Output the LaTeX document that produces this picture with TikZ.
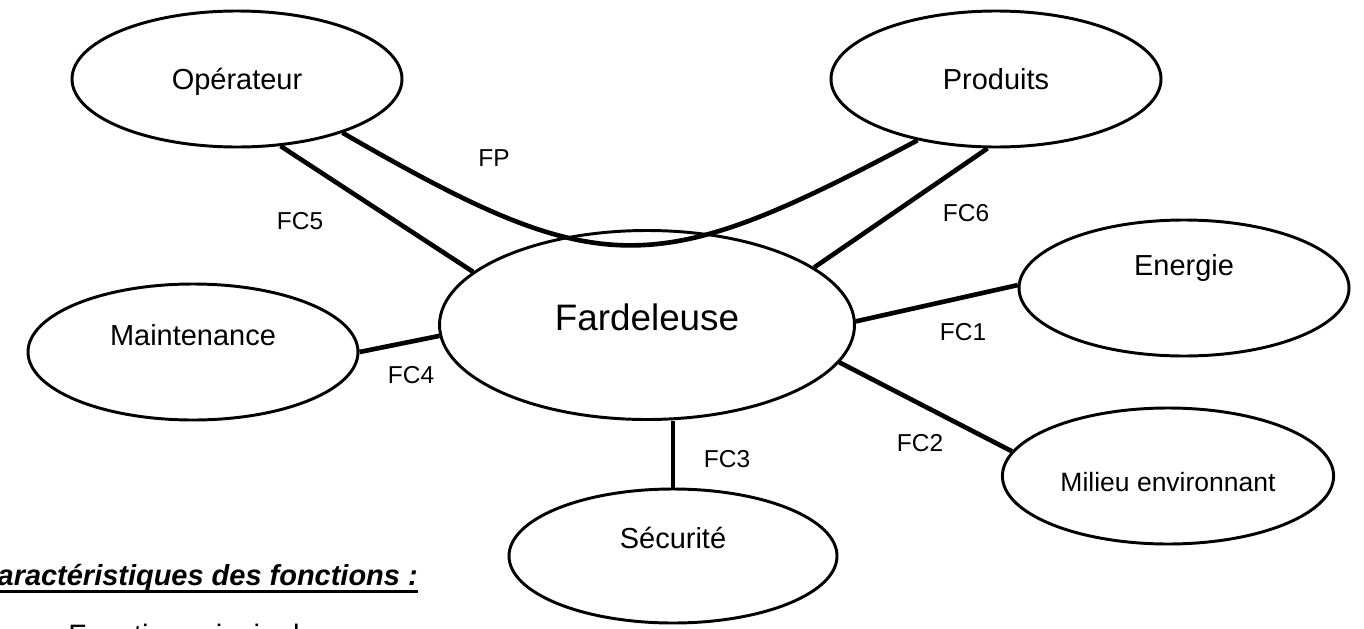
\documentclass[tikz,border=0pt]{standalone}
\usepackage{fontspec}
\setmainfont{Liberation Sans}
\usepackage{tikz}
\usetikzlibrary{shapes.geometric,positioning,calc}

\begin{document}
\begin{tikzpicture}[
    ent/.style={draw, ellipse, line width=2.1pt, minimum width=8.25cm, minimum height=3.4cm, inner sep=1pt, align=center, text height=0.52cm, text depth=0cm, font=\fontsize{20.6}{24}\selectfont},
    lien/.style={line width=3.3pt},
    lbl/.style={font=\fontsize{17.4}{20}\selectfont, inner sep=0pt}
]
\useasboundingbox (0,0) rectangle (34.1,-15.7);

\node[ent] (ope) at (5.925,-1.975) {Opérateur};
\node[ent] (prod) at (24.9,-1.975) {Produits};
\node[ent, text depth=0.85cm] (maint) at (4.825,-8.8) {Maintenance};
\node[ent, text depth=1.15cm] (ener) at (29.6,-7.2) {Energie};
\node[ent, font=\fontsize{18.85}{22}\selectfont, text height=0.775cm, minimum width=8.28cm] (mil) at (29.2,-11.9) {Milieu environnant};
\node[ent, text depth=0.9cm, minimum width=8.2cm, minimum height=3.35cm] (secu) at (16.825,-13.9) {Sécurité};
\node[ent, font=\fontsize{26.2}{30}\selectfont, text height=0.66cm, text depth=0.4cm, minimum width=10.375cm, minimum height=4.725cm] (far) at (16.175,-8.125) {Fardeleuse};

\draw[lien] (ope.-27) to[out=-30, in=208, looseness=1.33] (prod.218);
\draw[lien] (ope.-57) -- (far.163);
\draw[lien] (prod.-97) -- (far.19);
\draw[lien] (far.1) -- (ener.179);
\draw[lien] (far.-11) -- (mil.171);
\draw[lien] (far.south -| secu.north) -- (secu.north);
\draw[lien] (maint.0) -- (far.183);

\node[lbl] (fp) at (12.35,-3.95) {FP};
\node[lbl] (fc5) at (7.5,-5.525) {FC5};
\node[lbl] (fc6) at (24.15,-5.325) {FC6};
\node[lbl] (fc1) at (24.075,-8.3) {FC1};
\node[lbl] (fc2) at (23.0,-11.075) {FC2};
\node[lbl] (fc3) at (18.175,-11.475) {FC3};
\node[lbl] (fc4) at (10.275,-9.375) {FC4};

% bas de page, coupe par le cadre
\node[anchor=base east, inner sep=0pt, font=\fontsize{20.6}{24}\selectfont\bfseries\itshape] (cara) at (10.45,-14.625) {Caractéristiques des fonctions :};
\draw[line width=2.6pt] ([yshift=-0.165cm]cara.base west) -- ([yshift=-0.165cm]cara.base east);
\node[anchor=base west, inner sep=0pt, font=\fontsize{21}{25}\selectfont] (fpr) at (1.7,-16.125) {Fonction principale};
\end{tikzpicture}
\end{document}
